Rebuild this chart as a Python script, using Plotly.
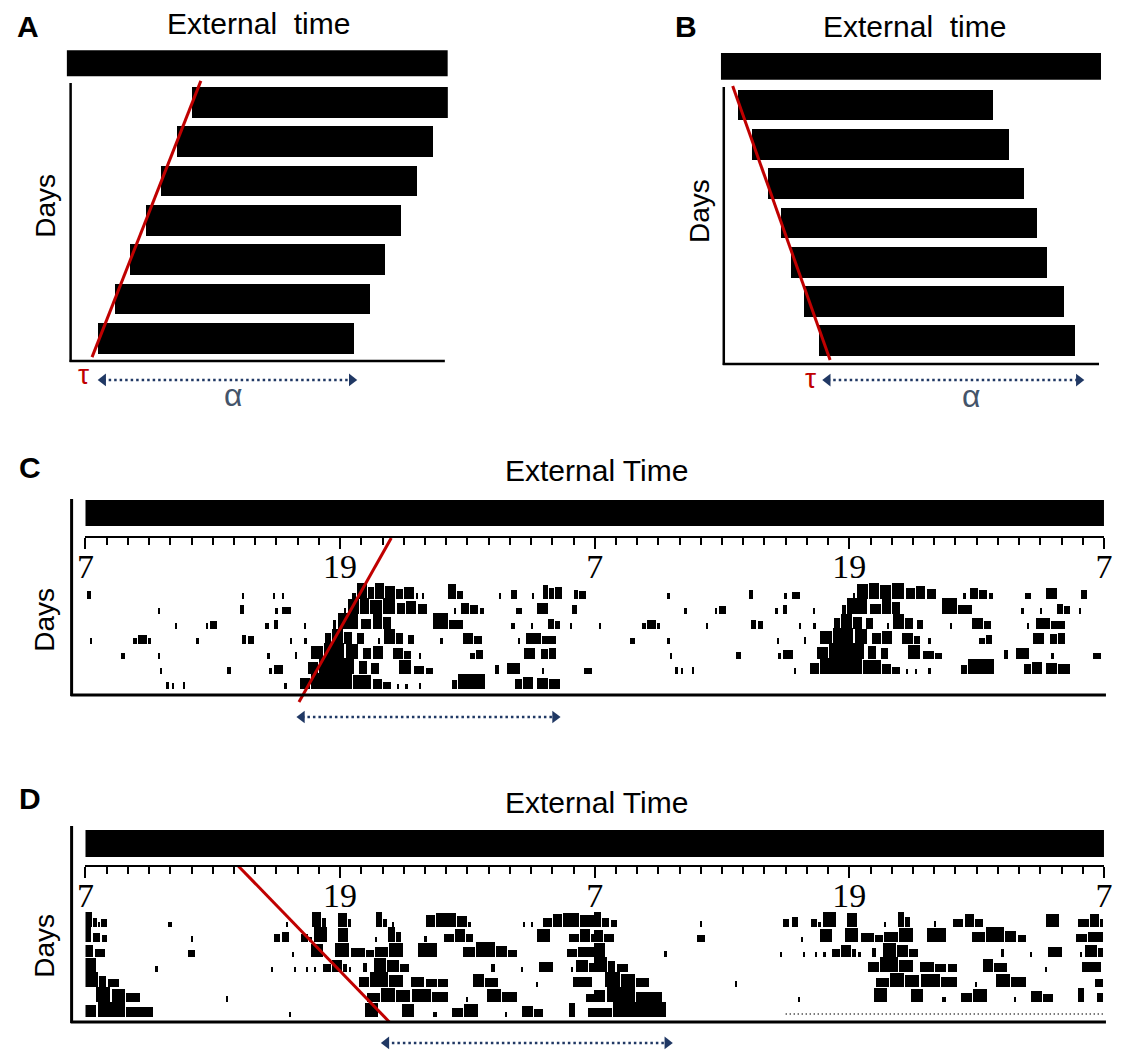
import plotly.graph_objects as go

W, H = 1124, 1052

# ---------------- Panel A / B schematic data ----------------
days_AB = [1, 2, 3, 4, 5, 6, 7]
A_onset = [7.9, 6.9, 5.9, 4.95, 3.95, 3.0, 1.95]
A_offset = [24.0, 23.05, 22.05, 21.05, 20.05, 19.1, 18.1]
B_onset = [1.05, 1.95, 2.95, 3.8, 4.45, 5.25, 6.2]
B_offset = [17.2, 18.15, 19.15, 19.95, 20.6, 21.65, 22.35]
A_tau_x = [8.45, 1.6]
A_tau_y = [0.45, 7.48]
B_tau_x = [0.75, 6.9]
B_tau_y = [0.52, 7.49]
A_alpha = [2.3, 17.95]
B_alpha = [6.75, 22.6]
AB_span = [0, 24]

# ---------------- Actogram data (hours after 07:00; [start, end, height]) ----------------
C_days = [
    [[0.1, 0.3, 0.45], [7.4, 7.5, 0.3], [8.85, 8.95, 0.3], [9.3, 9.4, 0.3],
     [12.6, 12.75, 0.3], [12.8, 13.3, 0.95], [13.35, 13.6, 0.7], [13.65, 14.1, 0.9], [14.15, 14.6, 0.75],
     [14.65, 15.0, 0.55], [15.05, 15.5, 0.7], [15.6, 15.7, 0.3], [15.9, 16.0, 0.35],
     [17.1, 17.5, 0.85], [17.55, 17.8, 0.45], [19.5, 19.6, 0.3], [20.1, 20.35, 0.5], [21.05, 21.15, 0.3],
     [21.6, 21.8, 0.8], [21.85, 22.1, 0.6], [22.15, 22.5, 0.7], [23.05, 23.25, 0.5], [23.3, 23.6, 0.45]],
    [[3.45, 3.55, 0.35], [7.3, 7.5, 0.5], [8.95, 9.1, 0.35], [9.3, 9.7, 0.4],
     [12.2, 12.3, 0.3], [12.4, 12.9, 0.85], [12.95, 13.4, 0.95], [13.45, 14.0, 0.8], [14.05, 14.6, 0.9],
     [14.7, 15.1, 0.6], [15.15, 15.6, 0.75], [15.7, 16.1, 0.55],
     [17.4, 17.5, 0.3], [17.7, 18.1, 0.65], [18.15, 18.5, 0.5], [18.6, 18.8, 0.3], [20.3, 20.6, 0.35],
     [21.3, 21.8, 0.6], [22.95, 23.2, 0.5]],
    [[4.25, 4.35, 0.35], [5.7, 5.8, 0.3], [5.9, 6.2, 0.45], [8.5, 8.65, 0.35], [8.9, 9.1, 0.5], [10.3, 10.4, 0.3],
     [11.7, 11.85, 0.5], [11.9, 12.85, 0.95], [13.0, 13.5, 0.55], [13.55, 14.0, 0.85], [14.05, 14.4, 0.7],
     [16.4, 17.1, 0.9], [17.15, 17.8, 0.5], [20.1, 20.25, 0.35], [21.0, 21.1, 0.3], [21.8, 22.1, 0.55],
     [22.15, 22.4, 0.45], [22.85, 22.95, 0.3]],
    [[0.23, 0.33, 0.3], [2.25, 2.45, 0.3], [2.5, 2.9, 0.5], [2.95, 3.1, 0.3], [5.25, 5.35, 0.3], [7.4, 7.6, 0.5],
     [7.7, 7.95, 0.45], [9.65, 9.75, 0.3], [10.3, 10.45, 0.3],
     [11.3, 11.6, 0.6], [11.65, 12.15, 0.85], [12.2, 12.6, 0.7], [12.8, 13.15, 0.6], [13.8, 13.9, 0.3],
     [14.1, 14.6, 0.85], [14.65, 15.0, 0.65], [15.2, 15.5, 0.5],
     [16.75, 16.85, 0.3], [17.8, 18.3, 0.6], [18.35, 18.7, 0.45], [20.4, 20.5, 0.3], [20.8, 21.5, 0.6],
     [21.55, 22.2, 0.45]],
    [[1.7, 1.9, 0.3], [3.45, 3.55, 0.3], [8.6, 8.7, 0.35], [9.9, 10.0, 0.4],
     [10.65, 11.2, 0.75], [11.25, 12.2, 0.95], [12.3, 12.85, 0.85], [13.1, 13.5, 0.6], [13.55, 14.05, 0.75],
     [14.5, 15.0, 0.6], [15.05, 15.35, 0.45], [15.75, 15.85, 0.3],
     [18.15, 18.4, 0.35], [18.45, 18.75, 0.5], [20.7, 21.2, 0.6], [21.5, 21.8, 0.55], [21.85, 22.2, 0.65]],
    [[3.55, 3.65, 0.35], [6.7, 6.9, 0.4], [8.65, 8.8, 0.3], [8.9, 9.35, 0.5],
     [10.5, 11.0, 0.7], [11.05, 12.7, 0.95], [12.9, 13.3, 0.75], [13.5, 13.85, 0.6], [14.8, 15.35, 0.8],
     [15.5, 16.0, 0.45], [16.05, 16.4, 0.35],
     [19.3, 19.5, 0.5], [19.9, 20.5, 0.65], [21.55, 21.65, 0.3], [23.5, 23.9, 0.3]],
    [[3.8, 3.95, 0.4], [4.1, 4.2, 0.3], [4.6, 4.7, 0.4], [9.4, 9.5, 0.3],
     [10.15, 10.6, 0.6], [10.65, 12.6, 0.9], [12.65, 13.5, 0.8], [13.55, 14.0, 0.55], [14.05, 14.4, 0.4],
     [14.7, 14.8, 0.25], [15.1, 15.2, 0.25], [15.75, 15.85, 0.35],
     [17.3, 17.55, 0.5], [17.6, 18.85, 0.85], [20.25, 20.6, 0.55], [20.65, 21.1, 0.7], [21.3, 21.8, 0.6],
     [21.85, 22.4, 0.55]],
]

D_days = [
    [[0.0, 0.35, 0.9], [0.4, 0.55, 0.55], [0.6, 0.7, 0.3], [0.75, 1.05, 0.5], [3.9, 4.1, 0.3], [9.45, 9.55, 0.3],
     [10.7, 11.1, 0.9], [11.15, 11.35, 0.55], [11.9, 12.35, 0.85], [12.4, 12.55, 0.45], [13.7, 14.0, 0.9],
     [14.05, 14.25, 0.45], [14.45, 14.55, 0.3],
     [16.05, 16.5, 0.7], [16.55, 17.5, 0.85], [17.55, 18.0, 0.65], [18.05, 18.2, 0.3], [20.65, 20.75, 0.3],
     [21.0, 21.1, 0.3], [21.6, 22.0, 0.55], [22.05, 22.5, 0.75], [22.55, 23.3, 0.85], [23.35, 24.0, 0.7]],
    [[0.0, 0.3, 0.9], [0.37, 0.7, 0.55], [0.8, 1.05, 0.4], [5.0, 5.1, 0.35], [8.9, 9.2, 0.45], [9.3, 9.6, 0.6],
     [10.2, 10.5, 0.5], [10.55, 10.7, 0.3], [10.8, 11.4, 0.9],
     [11.9, 12.4, 0.85], [13.65, 13.75, 0.3], [14.3, 14.6, 0.9], [14.65, 14.9, 0.6], [16.0, 16.1, 0.35],
     [16.9, 17.4, 0.5], [17.45, 17.9, 0.8], [17.95, 18.3, 0.5],
     [21.3, 21.9, 0.75], [22.8, 23.3, 0.5], [23.35, 23.8, 0.75], [23.85, 24.0, 0.5]],
    [[0.0, 0.4, 0.7], [0.45, 0.93, 0.5], [4.85, 5.2, 0.4], [9.75, 9.85, 0.3], [10.65, 11.2, 0.75],
     [11.8, 12.45, 0.85],
     [12.55, 13.2, 0.55], [13.25, 13.6, 0.4], [13.65, 14.3, 0.6], [14.35, 15.0, 0.85], [15.7, 16.6, 0.85],
     [17.8, 18.4, 0.6], [18.45, 19.3, 0.9], [19.35, 19.9, 0.65], [19.95, 20.35, 0.4], [22.7, 23.2, 0.45],
     [23.25, 24.0, 0.6]],
    [[0.0, 0.5, 0.85], [3.3, 3.45, 0.35], [8.75, 8.85, 0.3], [9.85, 9.95, 0.3], [10.4, 10.5, 0.3],
     [10.8, 10.9, 0.3], [11.2, 11.6, 0.5], [11.65, 12.1, 0.7],
     [12.15, 12.35, 0.45], [12.45, 12.55, 0.3], [13.1, 13.3, 0.55], [13.6, 14.2, 0.85], [14.25, 14.8, 0.7],
     [14.85, 15.25, 0.5],
     [19.15, 19.3, 0.5], [20.55, 20.65, 0.3], [21.4, 22.05, 0.6], [22.9, 23.0, 0.3], [23.15, 23.7, 0.7],
     [23.75, 24.0, 0.55]],
    [[0.0, 0.6, 0.9], [0.65, 1.0, 0.65], [1.07, 1.6, 0.5], [12.9, 13.4, 0.6], [13.45, 14.3, 0.9],
     [14.35, 15.0, 0.7], [15.35, 16.0, 0.6], [16.05, 16.6, 0.5], [16.65, 17.1, 0.45],
     [18.3, 18.8, 0.75], [18.85, 19.45, 0.55], [21.25, 21.35, 0.3], [23.0, 23.9, 0.6]],
    [[0.5, 1.2, 0.9], [1.25, 1.9, 0.8], [1.95, 2.6, 0.55], [6.65, 6.75, 0.35],
     [13.3, 13.9, 0.55], [13.95, 14.6, 0.85], [14.65, 15.3, 0.7], [15.4, 16.3, 0.8], [16.35, 17.1, 0.6],
     [17.95, 18.05, 0.3], [18.95, 19.6, 0.8], [19.65, 20.35, 0.6],
     [23.6, 24.0, 0.5]],
    [[0.0, 0.5, 0.7], [0.6, 1.9, 0.9], [1.95, 3.2, 0.6], [9.6, 9.7, 0.3],
     [13.2, 13.8, 0.85], [14.95, 15.5, 0.8], [16.4, 16.6, 0.3], [17.3, 17.8, 0.55], [17.85, 18.5, 0.75],
     [19.8, 19.9, 0.3], [20.6, 21.1, 0.65], [21.15, 21.6, 0.5], [22.8, 23.1, 0.85], [23.7, 24.0, 0.55]],
    [[0.0, 0.85, 0.55], [0.9, 3.4, 0.9]],
]
D_day8_trace = [9.0, 23.95]      # low-level trace recorded on the last day (dotted)

C_tau_x = [14.41, 10.06]
C_tau_y = [3.03, -7.9]
D_tau_x = [7.2, 14.32]
D_tau_y = [3.07, -7.33]
C_alpha = [10.2, 22.13]
D_alpha = [14.18, 27.42]
CD_span = [0, 48]
N_ROWS = 7

hour_ticks = list(range(0, 49))
major_ticks = [0, 12, 24, 36, 48]
major_labels = ["7", "19", "7", "19", "7"]

# ---------------- helpers ----------------
XC, XK = 565.0, 1.007   # slight horizontal layout compensation


def px(x):
    return (XC + (x - XC) * XK) / W


def py(y):
    return 1 - y / H


SANS = "Liberation Sans, Arial, sans-serif"
NAVY = "#203864"
RED = "#C00000"
ALPHA_C = "#44546A"
MARK_SCALE = 1.12

fig = go.Figure()

# ---- A / B bars ----
for xa, ya, on, off in (("x", "y", A_onset, A_offset), ("x2", "y2", B_onset, B_offset)):
    fig.add_trace(go.Bar(orientation="h", y=days_AB, base=on, x=[b - a for a, b in zip(on, off)],
                         width=0.78, marker=dict(color="black", line=dict(width=0)),
                         xaxis=xa, yaxis=ya, showlegend=False, hoverinfo="skip"))

# ---- actogram bars (double plotted) ----
def actogram(days, nrows):
    xs, ws, bases, hs = [], [], [], []
    for r in range(1, nrows + 1):
        for offset, day_idx in ((0, r - 1), (24, r)):
            if day_idx >= len(days):
                continue
            for s, e, h in days[day_idx]:
                xs.append(offset + (s + e) / 2)
                ws.append(e - s)
                bases.append(-r)
                hs.append(h * MARK_SCALE)
    return xs, ws, bases, hs


for xa, ya, days in (("x3", "y3", C_days), ("x4", "y4", D_days)):
    xs, ws, bases, hs = actogram(days, N_ROWS)
    fig.add_trace(go.Bar(x=xs, y=hs, base=bases, width=ws,
                         marker=dict(color="black", line=dict(width=0)),
                         xaxis=xa, yaxis=ya, showlegend=False, hoverinfo="skip"))

# dotted low-activity trace on day 8 (panel D, right half, row 7)
fig.add_trace(go.Scatter(x=[24 + v for v in D_day8_trace], y=[-6.8, -6.8], mode="lines",
                         line=dict(color="black", width=1.5, dash="1px,3px"),
                         xaxis="x4", yaxis="y4", showlegend=False, hoverinfo="skip"))

# ---- red tau lines ----
for xa, ya, tx, ty in (("x", "y", A_tau_x, A_tau_y), ("x2", "y2", B_tau_x, B_tau_y),
                       ("x3", "y3", C_tau_x, C_tau_y), ("x4", "y4", D_tau_x, D_tau_y)):
    fig.add_trace(go.Scatter(x=tx, y=ty, mode="lines", line=dict(color=RED, width=3),
                             xaxis=xa, yaxis=ya, showlegend=False, hoverinfo="skip"))

# ---- alpha arrows ----
for xa, ya, ax, ay in (("x", "y", A_alpha, 8.06), ("x2", "y2", B_alpha, 8.0),
                       ("x3", "y3", C_alpha, -8.9), ("x4", "y4", D_alpha, -8.73)):
    fig.add_trace(go.Scatter(x=ax, y=[ay, ay], mode="lines",
                             line=dict(color=NAVY, width=2.5, dash="2.5px,3px"),
                             xaxis=xa, yaxis=ya, showlegend=False, hoverinfo="skip"))
    fig.add_trace(go.Scatter(x=ax, y=[ay, ay], mode="markers",
                             marker=dict(symbol=["triangle-left", "triangle-right"], size=11, color=NAVY),
                             xaxis=xa, yaxis=ya, showlegend=False, hoverinfo="skip", cliponaxis=False))

# ---- shapes: external-time bars and frames ----
shapes = []
shapes.append(dict(type="rect", xref="x", yref="y", x0=AB_span[0], x1=AB_span[1], y0=-0.33, y1=0.33,
                   fillcolor="black", line=dict(width=0), layer="below"))
shapes.append(dict(type="rect", xref="x2", yref="y2", x0=AB_span[0], x1=AB_span[1], y0=-0.32, y1=0.36,
                   fillcolor="black", line=dict(width=0), layer="below"))
shapes.append(dict(type="rect", xref="x3", yref="y3", x0=CD_span[0] - 0.1, x1=CD_span[1] + 0.1, y0=3.83, y1=5.57,
                   fillcolor="black", line=dict(width=0), layer="below"))
shapes.append(dict(type="rect", xref="x4", yref="y4", x0=CD_span[0] - 0.1, x1=CD_span[1] + 0.1, y0=3.67, y1=5.47,
                   fillcolor="black", line=dict(width=0), layer="below"))


def pline(x0, y0, x1, y1, w):
    return dict(type="line", xref="paper", yref="paper", x0=px(x0), y0=py(y0), x1=px(x1), y1=py(y1),
                line=dict(color="black", width=w))


shapes += [pline(67, 83, 67, 362, 2.5), pline(66, 361, 444, 361, 2.5),
           pline(725, 87, 725, 365, 2.5), pline(724, 364, 1103, 364, 2.5),
           pline(68, 499, 68, 696, 3), pline(67, 695, 1110, 695, 3),
           pline(68, 826, 68, 1023, 3), pline(67, 1022, 1110, 1022, 3)]

# ---- text ----
ann = []


def text(x, y, t, size, color="black", angle=0, family=SANS):
    ann.append(dict(x=px(x), y=py(y), xref="paper", yref="paper", text=t, showarrow=False,
                    xanchor="center", yanchor="middle", textangle=angle,
                    font=dict(family=family, size=size, color=color)))


text(24, 26, "<b>A</b>", 30)
text(687, 27, "<b>B</b>", 30)
text(26, 468, "<b>C</b>", 30)
text(26, 798, "<b>D</b>", 30)
text(256, 24, "External  time", 30)
text(917, 27, "External  time", 30)
text(597, 470, "External Time", 30)
text(597, 802, "External Time", 30)
text(41, 206, "Days", 28, angle=-90)
text(700, 211, "Days", 28, angle=-90)
text(40, 620, "Days", 28, angle=-90)
text(40, 946, "Days", 28, angle=-90)
text(80, 374, "τ", 28, RED)
text(812, 378, "τ", 28, RED)
text(231, 395, "α", 32, ALPHA_C)
text(975, 396, "α", 32, ALPHA_C)

hidden = dict(visible=False, fixedrange=True)


def tick_axis(pos):
    return dict(domain=[px(82), px(1108)], range=CD_span, anchor="free", position=pos,
                showline=True, linecolor="black", linewidth=2, showgrid=False, zeroline=False,
                ticks="outside", ticklen=11, tickwidth=2, tickcolor="black",
                tickmode="array", tickvals=major_ticks, ticktext=major_labels,
                ticklabelstandoff=-12, ticklabeloverflow="allow",
                tickfont=dict(family="Liberation Serif, Times New Roman, serif", size=34, color="black"),
                minor=dict(tickmode="array", tickvals=hour_ticks, ticks="outside", ticklen=7,
                           tickwidth=2, tickcolor="black", showgrid=False),
                fixedrange=True)


fig.update_layout(
    width=W, height=H, margin=dict(l=0, r=0, t=0, b=0), autosize=False,
    paper_bgcolor="white", plot_bgcolor="rgba(0,0,0,0)",
    barmode="overlay", bargap=0, showlegend=False,
    xaxis=dict(domain=[px(63), px(447)], range=AB_span, anchor="y", **hidden),
    yaxis=dict(domain=[py(405), py(45)], range=[8.697, -0.463], anchor="x", **hidden),
    xaxis2=dict(domain=[px(722), px(1105)], range=AB_span, anchor="y2", **hidden),
    yaxis2=dict(domain=[py(408), py(48)], range=[8.71, -0.45], anchor="x2", **hidden),
    xaxis3=tick_axis(py(537)),
    yaxis3=dict(domain=[py(730), py(495)], range=[-9.767, 5.9], anchor="x3", **hidden),
    xaxis4=tick_axis(py(866)),
    yaxis4=dict(domain=[py(1050), py(824)], range=[-9.2, 5.867], anchor="x4", **hidden),
    shapes=shapes, annotations=ann,
)

fig.write_html("out.html", config={"responsive": False, "displayModeBar": False},
               post_script="document.body.style.margin='0';document.body.style.overflow='hidden';"
                           "document.documentElement.style.overflow='hidden';")
